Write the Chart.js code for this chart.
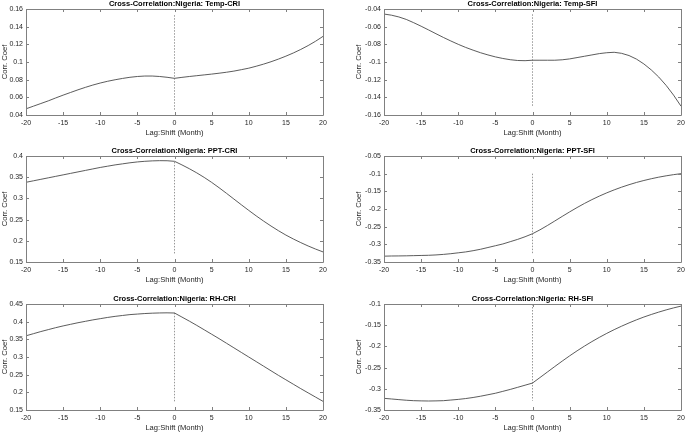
<!DOCTYPE html>
<html>
<head>
<meta charset="utf-8">
<script src="https://cdn.jsdelivr.net/npm/chart.js@4.4.0/dist/chart.umd.min.js"></script>
<style>
  html, body { margin: 0; padding: 0; background: #fff; overflow: hidden; }
  body { width: 685px; height: 433px; position: relative; }
  canvas { position: absolute; }
</style>
</head>
<body>
<canvas id="c1"></canvas>
<canvas id="c2"></canvas>
<canvas id="c3"></canvas>
<canvas id="c4"></canvas>
<canvas id="c5"></canvas>
<canvas id="c6"></canvas>
<script>
// lag in months, -20 .. 20
const lags = [-20, -19, -18, -17, -16, -15, -14, -13, -12, -11, -10, -9, -8, -7, -6, -5, -4, -3, -2, -1, 0,
  1, 2, 3, 4, 5, 6, 7, 8, 9, 10, 11, 12, 13, 14, 15, 16, 17, 18, 19, 20];
const xTicks = [-20, -15, -10, -5, 0, 5, 10, 15, 20];

const tempCri = [0.047, 0.050, 0.053, 0.056, 0.0593, 0.0625, 0.0655, 0.0685, 0.0713, 0.0739,
  0.0762, 0.0782, 0.0799, 0.0814, 0.0827, 0.0836, 0.0841, 0.0841, 0.0836, 0.0827,
  0.0815,
  0.0826, 0.0836, 0.0845, 0.0854, 0.0863, 0.0873, 0.0884, 0.0897, 0.0913,
  0.093, 0.0952, 0.0976, 0.1003, 0.1033, 0.1066, 0.1102, 0.1142, 0.1186, 0.1235, 0.129];
const tempSfi = [-0.0457, -0.047, -0.049, -0.0518, -0.0555, -0.0595, -0.0637, -0.068, -0.0722, -0.0762,
  -0.080, -0.0835, -0.0866, -0.0895, -0.092, -0.0942, -0.096, -0.0974, -0.0983, -0.0985,
  -0.098,
  -0.098, -0.098, -0.098, -0.0975, -0.0965, -0.095, -0.0935, -0.092, -0.0905,
  -0.0895, -0.089, -0.0902, -0.0927, -0.0967, -0.1022, -0.109, -0.117, -0.1265, -0.1375, -0.150];
const pptCri = [0.338, 0.3415, 0.345, 0.3485, 0.352, 0.3555, 0.359, 0.3625, 0.366, 0.3695,
  0.373, 0.376, 0.379, 0.3815, 0.384, 0.386, 0.3875, 0.3885, 0.389, 0.3888,
  0.3875,
  0.379, 0.370, 0.3602, 0.3495, 0.3378, 0.3252, 0.312, 0.2985, 0.285,
  0.2717, 0.2588, 0.2465, 0.2348, 0.2238, 0.2135, 0.2043, 0.1958, 0.1878, 0.1805, 0.1738];
const pptSfi = [-0.3335, -0.333, -0.3328, -0.3325, -0.332, -0.3315, -0.331, -0.330, -0.3285, -0.3265,
  -0.324, -0.3215, -0.318, -0.314, -0.309, -0.304, -0.299, -0.2925, -0.286, -0.2785,
  -0.270,
  -0.259, -0.2468, -0.234, -0.221, -0.2082, -0.1959, -0.1843, -0.1735, -0.1635,
  -0.1543, -0.1459, -0.1382, -0.1312, -0.1249, -0.1193, -0.1143, -0.1099, -0.1061, -0.1028, -0.100];
const rhCri = [0.360, 0.366, 0.372, 0.3775, 0.383, 0.388, 0.3925, 0.397, 0.401, 0.405,
  0.4085, 0.412, 0.415, 0.4175, 0.420, 0.4215, 0.423, 0.424, 0.4247, 0.425,
  0.4245,
  0.413, 0.4015, 0.3895, 0.377, 0.3645, 0.352, 0.339, 0.326, 0.313,
  0.300, 0.287, 0.274, 0.261, 0.248, 0.2355, 0.223, 0.2105, 0.1985, 0.1865, 0.1745];
const rhSfi = [-0.3225, -0.324, -0.3255, -0.327, -0.328, -0.3285, -0.3288, -0.3285, -0.328, -0.3265,
  -0.325, -0.323, -0.3205, -0.3175, -0.314, -0.3105, -0.306, -0.3015, -0.2965, -0.2915,
  -0.2865,
  -0.2735, -0.2605, -0.2475, -0.2347, -0.2223, -0.2105, -0.1993, -0.1887, -0.1787,
  -0.1693, -0.1605, -0.1523, -0.1446, -0.1374, -0.1307, -0.1247, -0.1191, -0.1139, -0.1092, -0.105];

// dotted marker at lag 0: [top, bottom]
const zeroTempCri = [0.153, 0.046];
const zeroTempSfi = [-0.046, -0.150];
const zeroPptCri = [0.386, 0.170];
const zeroPptSfi = [-0.100, -0.328];
const zeroRhCri = [0.425, 0.174];
const zeroRhSfi = [-0.100, -0.328];

const panels = [
  { id: 'c1', col: 0, top: 9,   title: 'Temp-CRI', values: tempCri, zero: zeroTempCri, min: 0.04,  max: 0.16,  step: 0.02 },
  { id: 'c2', col: 1, top: 9,   title: 'Temp-SFI', values: tempSfi, zero: zeroTempSfi, min: -0.16, max: -0.04, step: 0.02 },
  { id: 'c3', col: 0, top: 156, title: 'PPT-CRI',  values: pptCri,  zero: zeroPptCri,  min: 0.15,  max: 0.4,   step: 0.05 },
  { id: 'c4', col: 1, top: 156, title: 'PPT-SFI',  values: pptSfi,  zero: zeroPptSfi,  min: -0.35, max: -0.05, step: 0.05 },
  { id: 'c5', col: 0, top: 304, title: 'RH-CRI',   values: rhCri,   zero: zeroRhCri,   min: 0.15,  max: 0.45,  step: 0.05 },
  { id: 'c6', col: 1, top: 304, title: 'RH-SFI',   values: rhSfi,   zero: zeroRhSfi,   min: -0.35, max: -0.1,  step: 0.05 },
];

const FONT = "'Liberation Sans', Arial, Helvetica, sans-serif";
const TEXT = '#262626';

// matlab style box with inward ticks on all four sides
const boxPlugin = {
  id: 'matlabBox',
  afterDraw(chart) {
    const { ctx, chartArea: a, scales: { x, y } } = chart;
    const len = 3;
    ctx.save();
    ctx.strokeStyle = '#808080';
    ctx.lineWidth = 1;
    ctx.beginPath();
    ctx.rect(Math.round(a.left) + 0.5, Math.round(a.top) + 0.5,
      Math.round(a.right - a.left), Math.round(a.bottom - a.top));
    x.ticks.forEach(t => {
      const px = Math.round(x.getPixelForValue(t.value)) + 0.5;
      ctx.moveTo(px, a.bottom); ctx.lineTo(px, a.bottom - len);
      ctx.moveTo(px, a.top); ctx.lineTo(px, a.top + len);
    });
    y.ticks.forEach(t => {
      const py = Math.round(y.getPixelForValue(t.value)) + 0.5;
      ctx.moveTo(a.left, py); ctx.lineTo(a.left + len, py);
      ctx.moveTo(a.right, py); ctx.lineTo(a.right - len, py);
    });
    ctx.stroke();
    ctx.restore();
  }
};

const fmt = v => String(+(+v).toFixed(2));

panels.forEach(p => {
  const canvas = document.getElementById(p.id);
  const left = p.col === 0 ? 0 : 342;
  const width = p.col === 0 ? 342 : 343;
  const height = 146;
  canvas.width = width;
  canvas.height = height;
  canvas.style.left = left + 'px';
  canvas.style.top = (p.top - 10) + 'px';
  canvas.style.width = width + 'px';
  canvas.style.height = height + 'px';

  const yWidth = p.col === 0 ? 26 : 30;
  new Chart(canvas, {
    type: 'line',
    data: {
      datasets: [
        {
          data: lags.map((l, i) => ({ x: l, y: p.values[i] })),
          borderColor: '#4a4a4a',
          borderWidth: 0.9,
          pointRadius: 0,
          tension: 0,
        },
        {
          data: [{ x: 0, y: p.zero[0] }, { x: 0, y: p.zero[1] }],
          borderColor: '#8c8c8c',
          borderWidth: 0.9,
          borderDash: [1.5, 1.5],
          pointRadius: 0,
        },
      ],
    },
    options: {
      responsive: false,
      animation: false,
      devicePixelRatio: 1,
      layout: {
        padding: { left: p.col === 0 ? 0 : 12, right: p.col === 0 ? 19 : 4, top: 0, bottom: 0 },
      },
      plugins: {
        legend: { display: false },
        tooltip: { enabled: false },
        title: {
          display: true,
          text: 'Cross-Correlation:Nigeria: ' + p.title,
          fullSize: false,
          color: '#000',
          font: { family: FONT, size: 7.5, weight: 'bold' },
          padding: { top: 0, bottom: 1 },
        },
      },
      scales: {
        x: {
          type: 'linear',
          min: -20,
          max: 20,
          afterBuildTicks: scale => { scale.ticks = xTicks.map(v => ({ value: v })); },
          afterFit: scale => { scale.height = 30; scale.paddingLeft = 0; scale.paddingRight = 0; },
          grid: { display: false, drawTicks: false },
          border: { display: false },
          ticks: {
            color: TEXT,
            padding: 4,
            maxRotation: 0,
            autoSkip: false,
            font: { family: FONT, size: 7 },
            callback: fmt,
          },
          title: {
            display: true,
            text: 'Lag:Shift (Month)',
            color: TEXT,
            font: { family: FONT, size: 7.6 },
            padding: { top: 0, bottom: 8 },
          },
        },
        y: {
          min: p.min,
          max: p.max,
          afterFit: scale => { scale.width = yWidth; },
          grid: { display: false, drawTicks: false },
          border: { display: false },
          ticks: {
            stepSize: p.step,
            color: TEXT,
            padding: 3,
            autoSkip: false,
            font: { family: FONT, size: 7 },
            callback: fmt,
          },
          title: {
            display: true,
            text: 'Corr. Coef',
            color: TEXT,
            font: { family: FONT, size: 7.6 },
            padding: 0,
          },
        },
      },
    },
    plugins: [boxPlugin],
  });
});
</script>
</body>
</html>
